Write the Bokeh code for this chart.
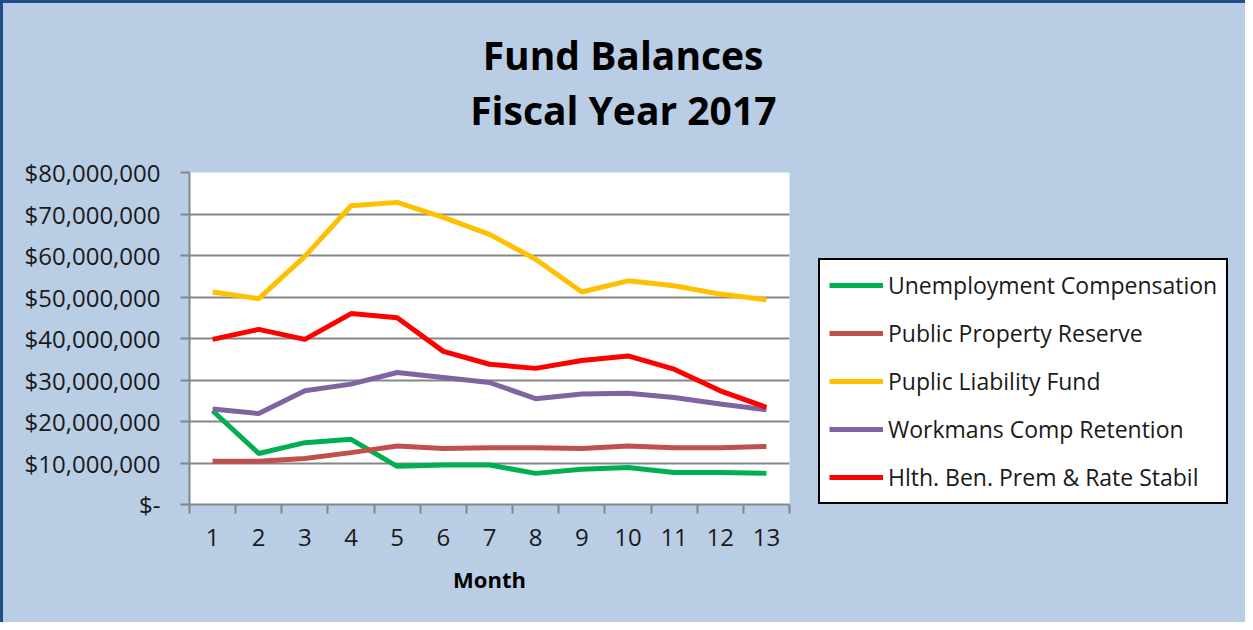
from bokeh.plotting import figure
from bokeh.models import FixedTicker, Legend, LegendItem, Title, Range1d
from bokeh.layouts import row
from bokeh.embed import file_html
from bokeh.resources import INLINE

# ---------------- data ----------------
months = [1, 2, 3, 4, 5, 6, 7, 8, 9, 10, 11, 12, 13]

unemployment = [22600000, 12300000, 14900000, 15700000, 9200000, 9500000, 9500000,
                7500000, 8500000, 8900000, 7700000, 7700000, 7500000]
property_reserve = [10400000, 10400000, 11100000, 12500000, 14100000, 13500000, 13700000,
                    13700000, 13500000, 14100000, 13700000, 13700000, 14000000]
liability = [51200000, 49600000, 59800000, 72000000, 72800000, 69200000, 65100000,
             59100000, 51200000, 53900000, 52700000, 50700000, 49300000]
workmans = [23000000, 21900000, 27400000, 29000000, 31800000, 30600000, 29400000,
            25500000, 26600000, 26800000, 25800000, 24200000, 22800000]
health = [39800000, 42200000, 39800000, 46000000, 45000000, 36900000, 33800000,
          32800000, 34700000, 35800000, 32600000, 27400000, 23400000]

series_names = ["Unemployment Compensation", "Public Property Reserve",
                "Puplic Liability Fund", "Workmans Comp Retention",
                "Hlth. Ben. Prem & Rate Stabil"]
series_values = [unemployment, property_reserve, liability, workmans, health]
series_colors = ["#00b050", "#c0504d", "#ffc000", "#8064a2", "#ff0000"]

ytick_values = [0, 10000000, 20000000, 30000000, 40000000, 50000000, 60000000, 70000000, 80000000]
ytick_labels = ["$-", "$10,000,000", "$20,000,000", "$30,000,000", "$40,000,000",
                "$50,000,000", "$60,000,000", "$70,000,000", "$80,000,000"]

title_lines = ["Fund Balances", "Fiscal Year 2017"]
x_title = "Month"

# ---------------- styling ----------------
FONT = "Open Sans"
GRID = "#868686"
BG = "#b9cde5"
EDGE = "3px solid #1f4e8c"

# ---------------- main chart ----------------
p = figure(width=806, height=619, output_backend="svg", toolbar_location=None,
           x_range=Range1d(0.5, 13.5), y_range=Range1d(0, 80000000),
           min_border_left=186, min_border_top=169, min_border_bottom=118,
           min_border_right=20)
p.background_fill_color = "white"
p.border_fill_color = BG
p.outline_line_color = None

# x axis
p.xaxis.ticker = FixedTicker(ticks=months, minor_ticks=[m - 0.5 for m in months] + [months[-1] + 0.5])
p.xaxis.major_tick_line_color = None
p.xaxis.minor_tick_line_color = GRID
p.xaxis.minor_tick_line_width = 2
p.xaxis.minor_tick_in = 0
p.xaxis.minor_tick_out = 9
p.xaxis.axis_line_color = GRID
p.xaxis.axis_line_width = 2
p.xaxis.major_label_text_font = FONT
p.xaxis.major_label_text_font_size = "24px"
p.xaxis.major_label_text_color = "#1a1a1a"
p.xaxis.major_label_standoff = 15
p.xaxis.axis_label = x_title
p.xaxis.axis_label_text_font = FONT
p.xaxis.axis_label_text_font_size = "22px"
p.xaxis.axis_label_text_font_style = "bold"
p.xaxis.axis_label_text_color = "black"
p.xaxis.axis_label_standoff = 15
p.xgrid.visible = False

# y axis
p.yaxis.ticker = FixedTicker(ticks=ytick_values, minor_ticks=[])
p.yaxis.major_label_overrides = {v: l for v, l in zip(ytick_values, ytick_labels)}
p.yaxis.major_tick_line_color = GRID
p.yaxis.major_tick_line_width = 2
p.yaxis.major_tick_in = 0
p.yaxis.major_tick_out = 9
p.yaxis.axis_line_color = GRID
p.yaxis.axis_line_width = 2
p.yaxis.major_label_text_font = FONT
p.yaxis.major_label_text_font_size = "24px"
p.yaxis.major_label_text_color = "#1a1a1a"
p.yaxis.major_label_standoff = 20
p.ygrid.ticker = FixedTicker(ticks=ytick_values, minor_ticks=[])
p.ygrid.grid_line_color = GRID
p.ygrid.grid_line_width = 2

for vals, col in zip(series_values, series_colors):
    p.line(months, vals, line_color=col, line_width=5)

# title: spacer nearest the plot, then the two lines
p.add_layout(Title(text=" ", text_font_size="10px", standoff=24), "above")
p.add_layout(Title(text=title_lines[1], align="right", offset=13,
                   text_font=FONT, text_font_style="bold", text_font_size="39px",
                   text_color="black", standoff=0), "above")
p.add_layout(Title(text=title_lines[0], align="right", offset=26,
                   text_font=FONT, text_font_style="bold", text_font_size="39px",
                   text_color="black", standoff=0), "above")

# ---------------- legend panel (frame aligned with the chart's frame) ----------------
lg = figure(width=436, height=619, output_backend="svg", toolbar_location=None,
            x_range=Range1d(0, 1), y_range=Range1d(0, 1),
            x_axis_type=None, y_axis_type=None, min_border=0)
lg.background_fill_color = None
lg.border_fill_color = None
lg.outline_line_color = None
lg.grid.visible = False

items = []
for name, vals, col in zip(series_names, series_values, series_colors):
    # same series, drawn off this panel's view; only their legend swatches show
    r = lg.line(months, vals, line_color=col, line_width=5)
    items.append(LegendItem(label=name, renderers=[r]))

legend = Legend(items=items, location=(9, 0), orientation="vertical",
                glyph_width=54, glyph_height=24, label_height=24, spacing=16,
                padding=9, margin=0, label_standoff=5,
                label_text_font=FONT, label_text_font_size="23px",
                label_text_color="#1a1a1a",
                border_line_color="black", border_line_width=2, border_line_alpha=1,
                background_fill_color="white", background_fill_alpha=1)
lg.add_layout(legend, "center")

layout = row(p, lg, spacing=0)
layout.styles = {"border-left": EDGE, "border-top": EDGE, "background-color": BG}
open("out.html", "w").write(file_html(layout, INLINE))
